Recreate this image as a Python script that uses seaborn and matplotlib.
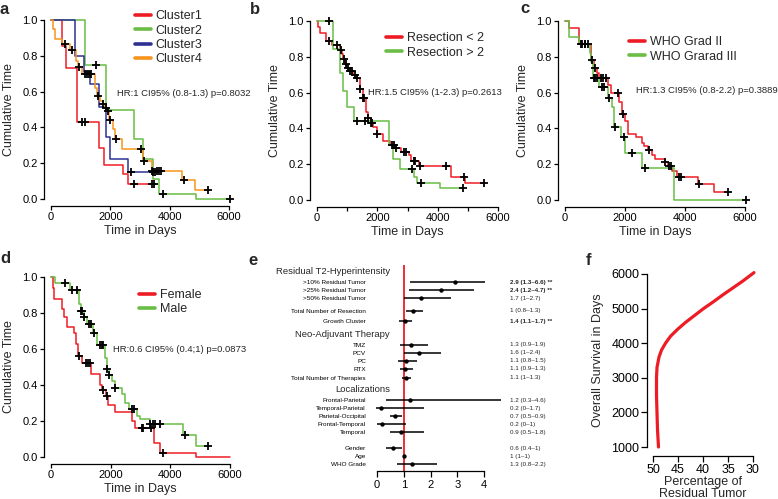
import numpy as np
import pandas as pd
import matplotlib
matplotlib.use("Agg")
import matplotlib.pyplot as plt
from matplotlib.lines import Line2D
import seaborn as sns

sns.set_style("ticks", {"axes.edgecolor": "black", "xtick.color": "black", "ytick.color": "black"})
plt.rcParams["font.family"] = ["Liberation Sans", "DejaVu Sans"]
plt.rcParams["axes.linewidth"] = 0.9

RED = "#ED1C24"
GREEN = "#6ABD45"
BLUE = "#2E3192"
ORANGE = "#F7941D"

# %% data: panel a (clusters)
a_labels = ["Cluster1", "Cluster2", "Cluster3", "Cluster4"]
a_c1_t = [370, 515, 870, 1630, 1790, 2440, 2610]
a_c1_s = [0.857, 0.733, 0.429, 0.284, 0.19, 0.14, 0.085]
a_c1_cens = [1060, 1130, 2790, 3400, 3480]
a_c2_t = [1150, 1860, 2800, 3110, 3450, 3650, 4900]
a_c2_s = [0.75, 0.50, 0.333, 0.222, 0.11, 0.028, 0.0]
a_c2_cens = [1500, 3760, 6020]
a_c3_t = [820, 1100, 1300, 1620, 1860, 1990, 2610]
a_c3_s = [0.80, 0.71, 0.64, 0.513, 0.346, 0.225, 0.152]
a_c3_cens = [2680, 3450, 3520]
a_c4_t = [60, 120, 370, 650, 850, 900, 1040, 1470, 1560, 1650, 1740, 1820,
          1900, 1950, 2100, 2160, 2380, 3090, 3390, 4430, 4850]
a_c4_s = [0.95, 0.895, 0.865, 0.83, 0.77, 0.74, 0.70, 0.62, 0.575, 0.55, 0.53, 0.51,
          0.494, 0.44, 0.39, 0.335, 0.28, 0.21, 0.155, 0.105, 0.052]
a_c4_cens = [480, 700, 960, 1160, 1220, 1280, 1340, 1580, 1760, 1840, 1920, 1990,
             2200, 3040, 3150, 3420, 3560, 3640, 3720, 4490, 5290]
a_hr = "HR:1 CI95% (0.8-1.3) p=0.8032"

# %% data: panel b (resection)
b_labels = ["Resection < 2", "Resection > 2"]
b_r_t = [20, 90, 300, 480, 750, 840, 870, 930, 1000, 1080, 1200, 1330, 1420, 1520,
         1620, 1690, 1780, 1870, 1980, 2200, 2420, 2600, 2800, 3050, 3130, 3380, 4450, 4900]
b_r_s = [0.965, 0.93, 0.89, 0.865, 0.84, 0.815, 0.79, 0.76, 0.74, 0.72, 0.70, 0.68, 0.62, 0.57,
         0.49, 0.46, 0.43, 0.41, 0.37, 0.33, 0.31, 0.29, 0.27, 0.25, 0.22, 0.19, 0.13, 0.095]
b_r_cens = [400, 660, 800, 880, 950, 1020, 1100, 1150, 1250, 1330, 1430, 1530, 1570, 1700,
            1790, 1820, 2000, 2480, 2540, 2620, 2870, 2960, 3200, 3250, 3400, 4290, 4890, 5530]
b_g_t = [530, 770, 850, 1010, 1230, 2370, 2530, 2750, 3210, 3330, 4070]
b_g_s = [0.845, 0.71, 0.61, 0.52, 0.44, 0.31, 0.23, 0.175, 0.13, 0.095, 0.065]
b_g_cens = [410, 1340, 1600, 3160, 3440, 4840]
b_hr = "HR:1.5 CI95% (1-2.3) p=0.2613"

# %% data: panel c (WHO grade)
c_labels = ["WHO Grad II", "WHO Grarad III"]
c_r_t = [130, 480, 880, 970, 1070, 1130, 1420, 1530, 1810, 1900, 1990, 2110, 2380, 2550,
         2640, 2760, 2890, 3000, 3330, 3440, 3550, 3720, 4440, 4950]
c_r_s = [0.96, 0.87, 0.78, 0.74, 0.71, 0.68, 0.64, 0.60, 0.55, 0.48, 0.44, 0.37, 0.35, 0.32,
         0.30, 0.28, 0.25, 0.23, 0.21, 0.19, 0.16, 0.13, 0.09, 0.045]
c_r_cens = [560, 660, 780, 900, 1000, 1200, 1280, 1380, 1780, 1930, 2790, 3330, 3470, 3520,
            3800, 3880, 4480, 5440]
c_g_t = [130, 480, 820, 880, 920, 1130, 1420, 1560, 1640, 1880, 2000, 2560, 3640]
c_g_s = [0.91, 0.87, 0.82, 0.77, 0.68, 0.63, 0.57, 0.52, 0.41, 0.353, 0.265, 0.18, 0.0]
c_g_cens = [520, 660, 960, 1000, 1060, 1230, 1300, 1480, 1680, 1960, 2220, 2660, 6020]
c_hr = "HR:1.3 CI95% (0.8-2.2) p=0.3889"

# %% data: panel d (gender)
d_labels = ["Female", "Male"]
d_r_t = [60, 110, 370, 450, 530, 780, 850, 890, 920, 1040, 1340, 1650, 1710, 1850, 1900,
         2150, 2710, 2820, 3460, 3640, 4860]
d_r_s = [0.94, 0.88, 0.82, 0.78, 0.72, 0.69, 0.63, 0.60, 0.56, 0.52, 0.46, 0.40, 0.37, 0.34,
         0.29, 0.25, 0.20, 0.16, 0.08, 0.02, 0.0]
d_r_cens = [950, 1180, 1230, 1300, 1740, 1880, 3050, 3100, 3350, 3750]
d_r_end = 6000
d_g_t = [120, 650, 925, 1000, 1115, 1200, 1405, 1540, 1820, 1875, 1930, 2040, 2150, 2375,
         2480, 2600, 2880, 2990, 3320, 4415, 4860]
d_g_s = [0.965, 0.93, 0.85, 0.81, 0.78, 0.74, 0.69, 0.62, 0.55, 0.49, 0.455, 0.42, 0.385, 0.35,
         0.30, 0.265, 0.23, 0.21, 0.185, 0.12, 0.06]
d_g_cens = [480, 720, 880, 1010, 1050, 1120, 1260, 1330, 1440, 1640, 1720, 1760, 1890, 1940,
            2160, 2730, 2770, 3330, 3420, 3500, 3650, 4490, 5270]
d_hr = "HR:0.6 CI95% (0.4;1) p=0.0873"

# %% data: panel e (forest plot)
e_headers = ["Residual T2-Hyperintensity", "Neo-Adjuvant Therapy", "Localizations"]
e_blocks = [
    (0, [">10% Residual Tumor", ">25% Residual Tumor", ">50% Residual Tumor"]),
    (None, ["Total Number of Resection"]),
    (None, ["Growth Cluster"]),
    (1, ["TMZ", "PCV", "PC", "RTX"]),
    (None, ["Total Number of Therapies"]),
    (2, ["Frontal-Parietal", "Temporal-Parietal", "Parietal-Occipital", "Frontal-Temporal", "Temporal"]),
    (None, ["Gender", "Age", "WHO Grade"]),
]
e_hr = [2.91, 2.39, 1.66, 1.35, 1.05, 1.26, 1.56, 1.07, 1.05, 1.07,
        1.24, 0.14, 0.68, 0.18, 0.91, 0.59, 1.0, 1.3]
e_lo = [1.25, 1.19, 1.01, 1.07, 0.81, 0.85, 1.01, 0.78, 0.85, 0.92,
        0.32, -0.05, 0.48, 0.0, 0.48, 0.32, 0.97, 0.75]
e_hi = [4.04, 3.63, 2.75, 1.72, 1.32, 1.91, 2.39, 1.5, 1.35, 1.27,
        4.65, 1.75, 0.92, 1.07, 1.76, 0.95, 1.03, 2.25]
e_text = ["2.9 (1.3\u20136.6) **", "2.4 (1.2\u20134.7) **", "1.7 (1\u20132.7)", "1 (0.8\u20131.3)",
          "1.4 (1.1\u20131.7) **", "1.3 (0.9\u20131.9)", "1.6 (1\u20132.4)", "1.1 (0.8\u20131.5)",
          "1.1 (0.9\u20131.3)", "1.1 (1\u20131.3)", "1.2 (0.3\u20134.6)", "0.2 (0\u20131.7)",
          "0.7 (0.5\u20130.9)", "0.2 (0\u20131)", "0.9 (0.5\u20131.8)", "0.6 (0.4\u20131)",
          "1 (1\u20131)", "1.3 (0.8\u20132.2)"]
e_bold = [True, True, False, False, True] + [False] * 13

# %% data: panel f
f_pct = [48.9, 49.1, 49.2, 49.3, 49.3, 49.2, 48.8, 48.3, 47.5, 46.5, 45.1, 43.5, 41.7,
         39.9, 37.9, 36.0, 34.0, 32.0, 29.8]
f_days = [1000, 1500, 2000, 2500, 3000, 3300, 3600, 3800, 4000, 4200, 4400, 4600, 4800,
          5000, 5200, 5400, 5600, 5800, 6040]

# %% figure
W, H = 778, 499
fig = plt.figure(figsize=(W / 100, H / 100), dpi=100)


def px_axes(x0, y0, x1, y1):
    return fig.add_axes([x0 / W, 1 - y1 / H, (x1 - x0) / W, (y1 - y0) / H])


def km_frame(curves, labels):
    rows, cens = [], []
    for (t, s, c, end), lab in zip(curves, labels):
        times = np.array([0] + t + [end if end else max(c + t)])
        surv = np.array([1.0] + s + [s[-1]])
        rows.append(pd.DataFrame({"time": times, "surv": surv, "group": lab}))
        idx = np.searchsorted(times, c, side="right") - 1
        cens.append(pd.DataFrame({"time": c, "surv": surv[idx]}))
    return pd.concat(rows, ignore_index=True), pd.concat(cens, ignore_index=True)


def km_panel(ax, curves, labels, colors, hr, hr_xy, leg_xy):
    df, cens = km_frame(curves, labels)
    sns.lineplot(data=df, x="time", y="surv", hue="group", palette=colors,
                 drawstyle="steps-post", estimator=None, sort=False,
                 linewidth=1.1, legend=False, ax=ax)
    sns.scatterplot(data=cens, x="time", y="surv", marker="+", color="black",
                    s=32, linewidth=1.3, ax=ax, zorder=5)
    ax.set_xlim(-240, 6240)
    ax.set_ylim(-0.04, 1.04)
    ax.set_xticks([0, 2000, 4000, 6000])
    ax.set_yticks([0, 0.2, 0.4, 0.6, 0.8, 1.0])
    ax.yaxis.set_major_formatter("{x:.1f}")
    sns.despine(ax=ax)
    ax.spines["left"].set_bounds(0, 1)
    ax.spines["bottom"].set_bounds(0, 6000)
    ax.tick_params(which="both", length=3, width=0.9, pad=1.5, labelsize=8)
    ax.set_xlabel("Time in Days", fontsize=9, labelpad=2)
    ax.set_ylabel("Cumulative Time", fontsize=9, labelpad=5)
    ax.text(hr_xy[0], hr_xy[1], hr, fontsize=6.8, va="center", ha="left")
    handles = [Line2D([], [], color=c, lw=2.6) for c in colors]
    ax.legend(handles, labels, loc="upper left", frameon=False, fontsize=9,
              bbox_to_anchor=(leg_xy[0] / W, 1 - leg_xy[1] / H), bbox_transform=fig.transFigure,
              borderpad=0, borderaxespad=0, handlelength=1.3, handletextpad=0.35,
              labelspacing=0.2)


ax_a = px_axes(43.9, 12.8, 236.1, 206.2)
km_panel(ax_a,
         [(a_c1_t, a_c1_s, a_c1_cens, None), (a_c2_t, a_c2_s, a_c2_cens, None),
          (a_c3_t, a_c3_s, a_c3_cens, None), (a_c4_t, a_c4_s, a_c4_cens, None)],
         a_labels, [RED, GREEN, BLUE, ORANGE], a_hr, (2225, 0.59), (135, 10))

ax_b = px_axes(309.8, 13.8, 505.2, 207.2)
km_panel(ax_b, [(b_r_t, b_r_s, b_r_cens, None), (b_g_t, b_g_s, b_g_cens, None)],
         b_labels, [RED, GREEN], b_hr, (1690, 0.60), (386, 32))
ax_b.set_xticks([1000, 3000, 5000], minor=True)

ax_c = px_axes(557.8, 13.8, 752.2, 207.2)
km_panel(ax_c, [(c_r_t, c_r_s, c_r_cens, None), (c_g_t, c_g_s, c_g_cens, None)],
         c_labels, [RED, GREEN], c_hr, (2380, 0.61), (629, 36))

ax_d = px_axes(43.8, 269.8, 237.2, 464.2)
km_panel(ax_d, [(d_r_t, d_r_s, d_r_cens, d_r_end), (d_g_t, d_g_s, d_g_cens, None)],
         d_labels, [RED, GREEN], d_hr, (2078, 0.60), (139, 289))

# %% forest plot
ax_e = px_axes(369, 265, 505.4, 471)
row_labels, row_pos, head_pos = [], [], {}
cur = -1.35
for (head, labs), gap in zip(e_blocks, [0, 0.6, 0.3, 0.6, 0.1, 0.45, 1.0]):
    cur += gap
    if head is not None:
        head_pos[head] = cur
        cur += 1.35
    for lab in labs:
        row_labels.append(lab)
        row_pos.append(cur)
        cur += 1

ax_e.axvline(1, color=RED, lw=1.3, zorder=1)
ax_e.hlines(row_pos, e_lo, e_hi, color="black", lw=1.1, zorder=2)
sns.scatterplot(x=e_hr, y=row_pos, color="black", s=10, linewidth=0, ax=ax_e, zorder=3)
ax_e.set_xlim(-0.3, 4.8)
ax_e.set_ylim(23.6, -2.125)
ax_e.set_xticks([0, 1, 2, 3, 4])
ax_e.set_yticks(row_pos, row_labels)
sns.despine(ax=ax_e, left=True)
ax_e.spines["bottom"].set_bounds(0, 4)
ax_e.tick_params(axis="x", length=4.5, width=0.9, pad=2, labelsize=8)
ax_e.tick_params(axis="y", length=0, pad=2.2, labelsize=4.6)
for i, name in enumerate(e_headers):
    ax_e.text(0.48, head_pos[i], name, ha="right", va="center", fontsize=6.8)
for p, txt, b in zip(row_pos, e_text, e_bold):
    ax_e.text(4.97, p, txt, ha="left", va="center", fontsize=4.5,
              fontweight="bold" if b else "normal", clip_on=False)

# %% panel f
ax_f = px_axes(647, 265, 759, 456)
sns.lineplot(x=f_pct, y=f_days, sort=False, estimator=None, color=RED, lw=2.3, ax=ax_f)
ax_f.set_xlim(51.2, 28.8)
ax_f.set_ylim(740, 6260)
ax_f.set_xticks([50, 45, 40, 35, 30])
ax_f.set_yticks([1000, 2000, 3000, 4000, 5000, 6000])
sns.despine(ax=ax_f)
ax_f.spines["left"].set_bounds(1000, 6000)
ax_f.spines["bottom"].set_bounds(30, 50)
ax_f.tick_params(length=4, width=0.9, pad=1.5, labelsize=9)
ax_f.set_xlabel("Percentage of\nResidual Tumor", fontsize=9, labelpad=0.5, linespacing=1.0)
ax_f.set_ylabel("Overall Survival in Days", fontsize=9, labelpad=5)

# %% panel letters
for letter, x, y in [("a", 0, 13.5), ("b", 250, 13.5), ("c", 520, 13), ("d", 0, 263),
                     ("e", 248, 265), ("f", 586, 265)]:
    fig.text(x / W, 1 - y / H, letter, fontsize=12, fontweight="bold", va="baseline")

fig.savefig("out.png", dpi=100)
